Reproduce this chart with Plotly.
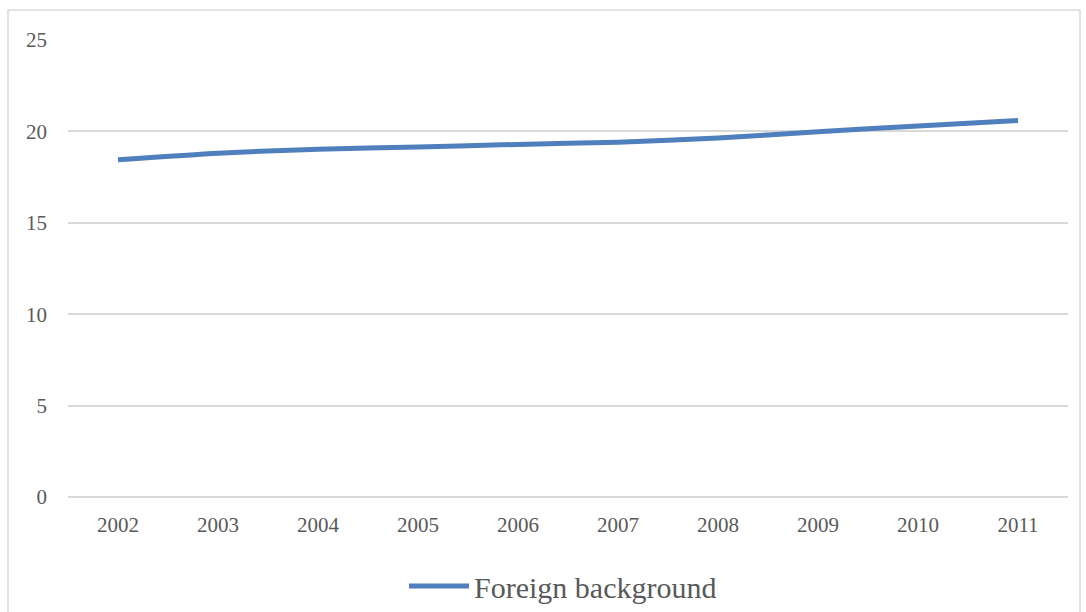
import plotly.graph_objects as go

years = ["2002", "2003", "2004", "2005", "2006", "2007", "2008", "2009", "2010", "2011"]
foreign_background = [18.45, 18.81, 19.03, 19.15, 19.29, 19.41, 19.64, 19.98, 20.3, 20.6]
y_ticks = [0, 5, 10, 15, 20, 25]

FONT = "Liberation Serif"
TEXT = "#595959"
GRID = "#D9D9D9"

fig = go.Figure()
fig.add_trace(go.Scatter(
    x=years,
    y=foreign_background,
    mode="lines",
    name="Foreign background",
    line=dict(color="#4F7FBC", width=5, shape="spline", smoothing=0.6),
))

fig.update_layout(
    width=1086,
    height=612,
    margin=dict(l=68, r=18, t=40, b=115, autoexpand=False),
    paper_bgcolor="white",
    plot_bgcolor="white",
    font=dict(family=FONT, color=TEXT, size=21),
    showlegend=True,
    legend=dict(
        orientation="h",
        x=0.495,
        xanchor="center",
        y=-0.195,
        yanchor="middle",
        font=dict(family=FONT, size=30, color=TEXT),
        itemwidth=60,
    ),
    xaxis=dict(
        type="category",
        range=[-0.5, 9.5],
        showgrid=False,
        showline=False,
        ticks="",
        tickfont=dict(family=FONT, size=21, color=TEXT),
        ticklabelstandoff=13,
    ),
    yaxis=dict(
        range=[0, 25],
        tickvals=y_ticks,
        showgrid=True,
        gridcolor=GRID,
        gridwidth=1.5,
        zeroline=True,
        zerolinecolor=GRID,
        zerolinewidth=1.5,
        showline=False,
        ticks="",
        tickfont=dict(family=FONT, size=21, color=TEXT),
        ticklabelstandoff=20,
    ),
    shapes=[
        dict(
            type="rect",
            xref="paper",
            yref="paper",
            x0=-0.06,
            x1=1.012,
            y0=-0.3,
            y1=1.0656,
            line=dict(color=GRID, width=1.5),
            fillcolor="rgba(0,0,0,0)",
            layer="below",
        )
    ],
)

fig.write_html("out.html")
